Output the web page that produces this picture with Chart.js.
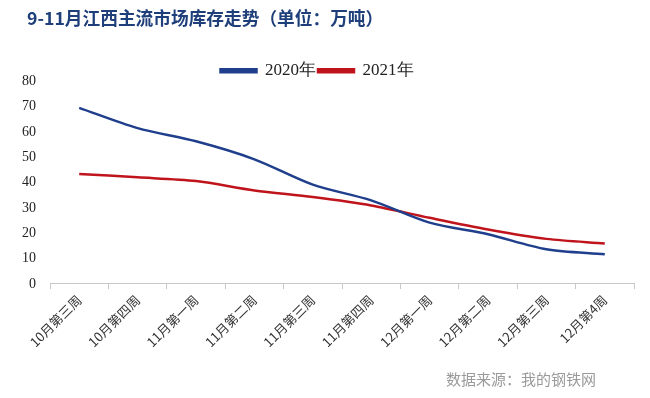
<!DOCTYPE html>
<html>
<head>
<meta charset="utf-8">
<script src="https://cdn.jsdelivr.net/npm/chart.js@4"></script>
<style>
  html, body { margin: 0; padding: 0; background: #fff; }
  #wrap { width: 650px; height: 398px; }
</style>
</head>
<body>
<div id="wrap"><canvas id="myChart" width="650" height="398"></canvas></div>
<script>
const weeks = ['10月第三周', '10月第四周', '11月第一周', '11月第二周', '11月第三周',
               '11月第四周', '12月第一周', '12月第二周', '12月第三周', '12月第4周'];
const stock2020 = [69.5, 61.5, 56.3, 49.2, 39.2, 33.0, 24.2, 19.6, 13.7, 11.7];
const stock2021 = [43.4, 42.1, 40.6, 36.9, 34.3, 31.0, 26.1, 21.5, 17.8, 16.0];
const yTicks = [0, 10, 20, 30, 40, 50, 60, 70, 80];
const sourceText = '数据来源：我的钢铁网';

// legend sits close to the plot and a bit left of centre in the original,
// title is indented a little from the axis labels
const layoutTweak = {
    id: 'layoutTweak',
    beforeLayout(chart) {
        const lg = chart.legend;
        if (lg && !lg._trimmed) {
            const fit = lg.fit;
            lg.fit = function() {
                fit.call(this);
                this.height -= 8;
            };
            lg._trimmed = true;
        }
    },
    afterLayout(chart) {
        chart.legend.left -= 11;
        chart.legend.right -= 11;
        chart.titleBlock.left += 5;
        chart.titleBlock.right += 5;
    }
};

// source note, bottom right
const sourceNote = {
    id: 'sourceNote',
    afterDraw(chart) {
        const c = chart.ctx;
        c.save();
        c.font = '15px "Noto Sans CJK SC"';
        c.fillStyle = '#9a9a9a';
        c.textAlign = 'right';
        c.textBaseline = 'middle';
        c.fillText(sourceText, 596, 379);
        c.restore();
    }
};

const ctx = document.getElementById('myChart').getContext('2d');
new Chart(ctx, {
    type: 'line',
    data: {
        labels: weeks,
        datasets: [{
            label: '2020年',
            data: stock2020,
            borderColor: '#1F3E8C',
            backgroundColor: '#1F3E8C',
            borderWidth: 2.5,
            pointRadius: 0,
            tension: 0.3
        }, {
            label: '2021年',
            data: stock2021,
            borderColor: '#C0141C',
            backgroundColor: '#C0141C',
            borderWidth: 2.5,
            pointRadius: 0,
            tension: 0.3
        }]
    },
    options: {
        responsive: false,
        animation: false,
        layout: {
            padding: { left: 22, right: 16, top: 0, bottom: 45 }
        },
        plugins: {
            title: {
                display: true,
                text: '9-11月江西主流市场库存走势（单位：万吨）',
                align: 'start',
                color: '#1F3F7A',
                font: { family: 'Noto Sans CJK SC', size: 17.7, weight: 'bold' },
                padding: { top: 8, bottom: 31 }
            },
            legend: {
                display: true,
                labels: {
                    boxWidth: 36,
                    boxHeight: 3,
                    padding: 2,
                    color: '#222',
                    font: { family: 'Liberation Serif', size: 17 }
                }
            },
            tooltip: { enabled: false }
        },
        scales: {
            x: {
                offset: true,
                afterFit: function(scale) {
                    scale.paddingLeft = 0;
                    scale.paddingRight = 0;
                },
                grid: {
                    offset: true,
                    drawOnChartArea: false,
                    color: '#c8c8c8',
                    tickLength: 5
                },
                border: { color: '#c8c8c8' },
                ticks: {
                    minRotation: 45,
                    maxRotation: 45,
                    color: '#333',
                    font: { family: 'Noto Sans CJK SC', size: 13 }
                }
            },
            y: {
                min: 0,
                max: 80,
                afterBuildTicks: function(axis) {
                    axis.ticks = yTicks.map(v => ({ value: v }));
                },
                afterFit: function(scale) {
                    scale.paddingTop = 0;
                    scale.width = 28;
                },
                grid: { display: false },
                border: { display: false },
                ticks: {
                    color: '#222',
                    padding: 6,
                    font: { family: 'Liberation Serif', size: 14 }
                }
            }
        }
    },
    plugins: [layoutTweak, sourceNote]
});
</script>
</body>
</html>
